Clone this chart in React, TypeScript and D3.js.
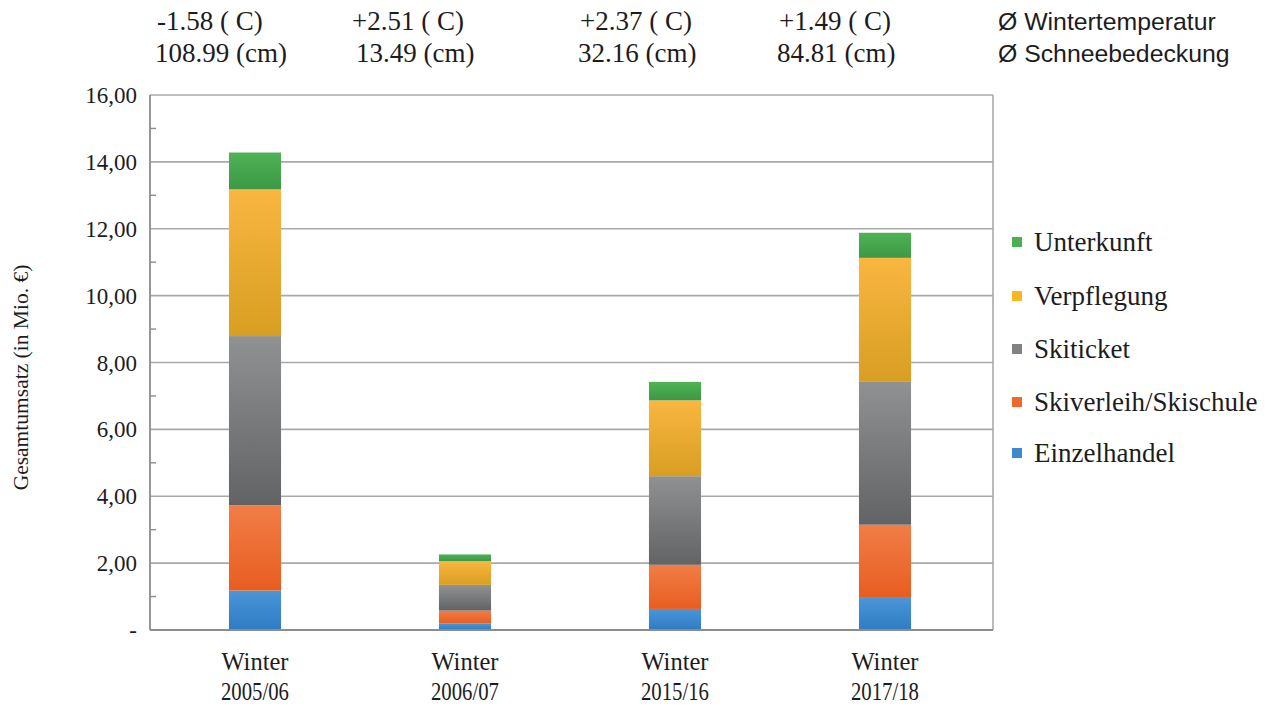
import React from "react";
import * as d3 from "d3";

const categories = ["Winter\n2005/06", "Winter\n2006/07", "Winter\n2015/16", "Winter\n2017/18"];
const seriesNames = ["Einzelhandel", "Skiverleih/Skischule", "Skiticket", "Verpflegung", "Unterkunft"];
const einzelhandel = [1.18, 0.2, 0.63, 0.96];
const skiverleih = [2.55, 0.38, 1.32, 2.19];
const skiticket = [5.06, 0.77, 2.65, 4.27];
const verpflegung = [4.39, 0.71, 2.27, 3.71];
const unterkunft = [1.1, 0.2, 0.55, 0.75];
const temperatures = ["-1.58 ( C)", "+2.51 ( C)", "+2.37 ( C)", "+1.49 ( C)"];
const snow = ["108.99 (cm)", "13.49 (cm)", "32.16 (cm)", "84.81 (cm)"];
const yTicks = [0, 2, 4, 6, 8, 10, 12, 14, 16];
const minorTicks = [1, 3, 5, 7, 9, 11, 13, 15];

const seriesValues = [einzelhandel, skiverleih, skiticket, verpflegung, unterkunft];
const gradients = [
  ["#4b96d8", "#2f7bc4"],
  ["#f17d47", "#e85d20"],
  ["#8f9193", "#616365"],
  ["#f9b641", "#d89e22"],
  ["#4fb355", "#3c9845"],
];
const legendColors = ["#3c8ad0", "#ee6a2c", "#808284", "#f9b823", "#4caf50"];
const tempOffsets = [-98, -113, -95, -106];
const snowOffsets = [-100, -109, -97, -108];

const serif = "'Liberation Serif', 'Times New Roman', serif";
const sans = "'Liberation Sans', Arial, sans-serif";

export default function App() {
  const W = 1271, H = 708;
  const left = 150, right = 990, frameRight = 993;
  const x = d3.scaleBand<number>().domain(d3.range(categories.length)).range([left, right]).paddingInner(0.752).paddingOuter(0.376);
  const y = d3.scaleLinear().domain([0, 16]).range([630, 95]);

  const table = categories.map((c, i) => {
    const row: any = { i };
    seriesNames.forEach((s, k) => (row[s] = seriesValues[k][i]));
    return row;
  });
  const stacked = d3.stack().keys(seriesNames)(table);
  const fmt = (v: number) => (v === 0 ? "-" : d3.format(".2f")(v).replace(".", ","));

  const legendY = [453, 402, 349, 296, 242];
  const ink = "#1c1c1c";

  return (
    <svg width={W} height={H} style={{ position: "absolute", left: 0, top: 0, background: "#fff" }}>
      <defs>
        {gradients.map((g, k) => (
          <linearGradient key={k} id={`g${k}`} x1="0" y1="0" x2="0" y2="1">
            <stop offset="0" stopColor={g[0]} />
            <stop offset="1" stopColor={g[1]} />
          </linearGradient>
        ))}
      </defs>
      <rect width={W} height={H} fill="#fff" />
      {yTicks.filter((t) => t > 0).map((t) => (
        <line key={t} x1={left} x2={frameRight} y1={y(t)} y2={y(t)} stroke="#a9a9a9" strokeWidth={1.6} />
      ))}
      <line x1={frameRight} x2={frameRight} y1={y(16)} y2={y(0)} stroke="#a9a9a9" strokeWidth={1.6} />
      {minorTicks.map((t) => (
        <line key={t} x1={left} x2={left + 6} y1={y(t)} y2={y(t)} stroke="#8c8c8c" strokeWidth={1.4} />
      ))}
      {stacked.map((layer, k) => (
        <g key={k}>
          {layer.map((d, i) => (
            <rect
              key={i}
              x={x(i)}
              width={x.bandwidth()}
              y={y(d[1])}
              height={y(d[0]) - y(d[1])}
              fill={`url(#g${k})`}
            />
          ))}
        </g>
      ))}
      <line x1={left} x2={left} y1={y(16)} y2={y(0)} stroke="#8c8c8c" strokeWidth={1.8} />
      <line x1={left} x2={frameRight} y1={y(0)} y2={y(0)} stroke="#8c8c8c" strokeWidth={1.8} />
      {yTicks.map((t) => (
        <text key={t} x={137} y={y(t)} dy="0.35em" textAnchor="end" fontFamily={serif} fontSize={23} fill={ink}>
          {fmt(t)}
        </text>
      ))}
      <text
        transform={`translate(28,${(y(0) + y(16)) / 2 + 15}) rotate(-90)`}
        textAnchor="middle"
        fontFamily={serif}
        fontSize={21.5}
        fill={ink}
      >
        Gesamtumsatz (in Mio. €)
      </text>
      {categories.map((c, i) => {
        const cx = (x(i) as number) + x.bandwidth() / 2;
        const lines = c.split("\n");
        return (
          <g key={i}>
            <text x={cx} y={670} textAnchor="middle" fontFamily={serif} fontSize={24.5} fill={ink}>{lines[0]}</text>
            <text x={cx - 34} y={700} textLength={68} lengthAdjust="spacingAndGlyphs" fontFamily={serif} fontSize={24.5} fill={ink}>{lines[1]}</text>
            <text x={cx + tempOffsets[i]} y={30} fontFamily={serif} fontSize={27} fill={ink}>{temperatures[i]}</text>
            <text x={cx + snowOffsets[i]} y={62} fontFamily={serif} fontSize={27} fill={ink}>{snow[i]}</text>
          </g>
        );
      })}
      <text x={998} y={30} fontFamily={sans} fontSize={24.8} fill={ink}>Ø Wintertemperatur</text>
      <text x={998} y={62} fontFamily={sans} fontSize={24.8} fill={ink}>Ø Schneebedeckung</text>
      {seriesNames.map((s, k) => (
        <g key={s}>
          <rect x={1012} y={legendY[k] - 5} width={10} height={10} fill={legendColors[k]} />
          <text x={1034} y={legendY[k]} dy="0.35em" fontFamily={serif} fontSize={27} fill={ink}>{s}</text>
        </g>
      ))}
    </svg>
  );
}
